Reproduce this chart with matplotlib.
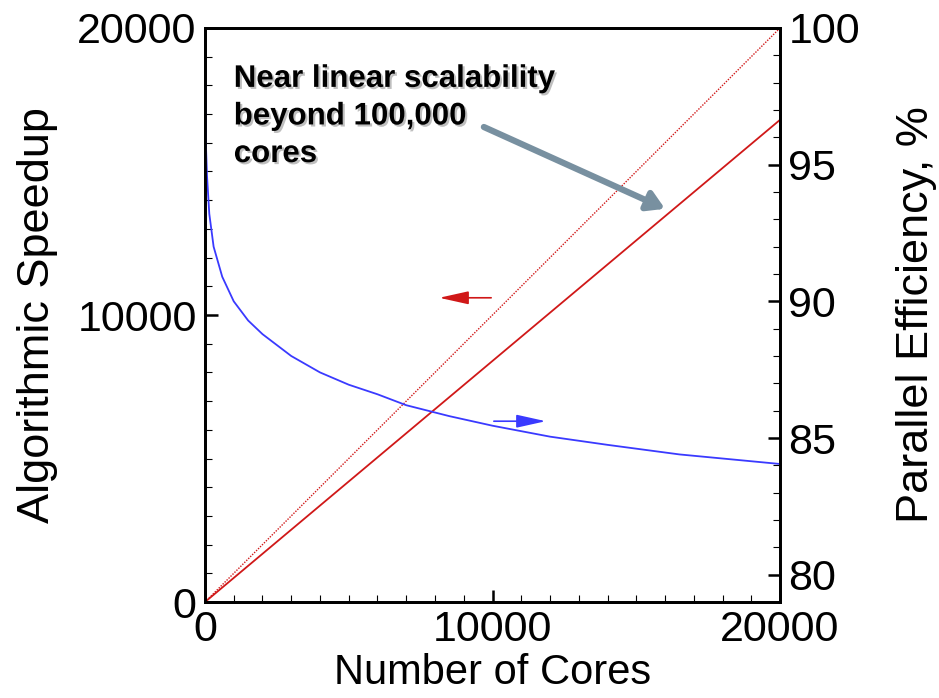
import matplotlib
matplotlib.use("Agg")
import matplotlib.pyplot as plt
import matplotlib.patheffects as pe
from matplotlib.ticker import MultipleLocator

plt.rcParams["font.family"] = ["Liberation Sans", "DejaVu Sans"]

# values
cores_eff = [0, 10, 30, 70, 150, 300, 600, 1000, 1500, 2000, 2500, 3000, 4000, 5000, 6000, 7000,
             8500, 10000, 12000, 14000, 16500, 20000]
efficiency = [100, 97.5, 95.8, 94.6, 93.2, 92.0, 90.9, 90.0, 89.3, 88.8, 88.4, 88.0, 87.4, 86.95, 86.6, 86.2,
              85.8, 85.45, 85.05, 84.75, 84.4, 84.05]

cores_speed = [0, 20000]
speedup = [0, 16800]
ideal = [0, 20000]

note = "Near linear scalability\nbeyond 100,000\ncores"

fig = plt.figure(figsize=(9.39, 6.98), dpi=100)
ax = fig.add_axes([0.2183, 0.1375, 0.6124, 0.8224])
ax2 = ax.twinx()

red = "#d01818"
blue = "#3a3aff"

ax.plot(cores_speed, ideal, color=red, lw=1.0, ls=(0, (1, 1)))
ax.plot(cores_speed, speedup, color=red, lw=1.3)
ax2.plot(cores_eff, efficiency, color=blue, lw=1.3)

ax.set_xlim(0, 20000)
ax.set_ylim(0, 20000)
ax2.set_ylim(79, 100)

ax.xaxis.set_major_locator(MultipleLocator(10000))
ax.xaxis.set_minor_locator(MultipleLocator(1000))
ax.yaxis.set_major_locator(MultipleLocator(10000))
ax.yaxis.set_minor_locator(MultipleLocator(1000))
ax2.yaxis.set_major_locator(MultipleLocator(5))
ax2.yaxis.set_minor_locator(MultipleLocator(1))

for a in (ax, ax2):
    for s in a.spines.values():
        s.set_linewidth(2.0)
    a.tick_params(which="major", direction="in", length=9, width=1.8, labelsize=31, pad=6)
    a.tick_params(which="minor", direction="in", length=5, width=0.8)
ax.tick_params(which="both", top=False, right=False)
ax2.tick_params(which="both", left=False)

ax.set_xlabel("Number of Cores", fontsize=30, labelpad=2)
ax.set_ylabel("Algorithmic Speedup", fontsize=32.5, labelpad=14)
ax2.set_ylabel("Parallel Efficiency, %", fontsize=32.5, labelpad=26)

# direction arrows for each curve
ax.annotate("", xy=(8050, 10600), xytext=(10050, 10600),
            arrowprops=dict(arrowstyle="-|>,head_length=1.8,head_width=0.4", color=red, lw=1.2))
ax.annotate("", xy=(11950, 6300), xytext=(9950, 6300),
            arrowprops=dict(arrowstyle="-|>,head_length=1.8,head_width=0.4", color=blue, lw=1.2))

# callout
ax.annotate("", xy=(16000, 13700), xytext=(9700, 16550),
            arrowprops=dict(arrowstyle="-|>,head_length=1.0,head_width=0.6", color="#7890a0", lw=4.5,
                            shrinkA=0, shrinkB=0))
ax.text(1000, 18750, note, fontsize=22.5, fontweight="bold", va="top", ha="left", linespacing=1.33,
        path_effects=[pe.withSimplePatchShadow(offset=(1.5, -1.5), shadow_rgbFace="gray", alpha=0.5)])

fig.savefig("out.png", dpi=100)
